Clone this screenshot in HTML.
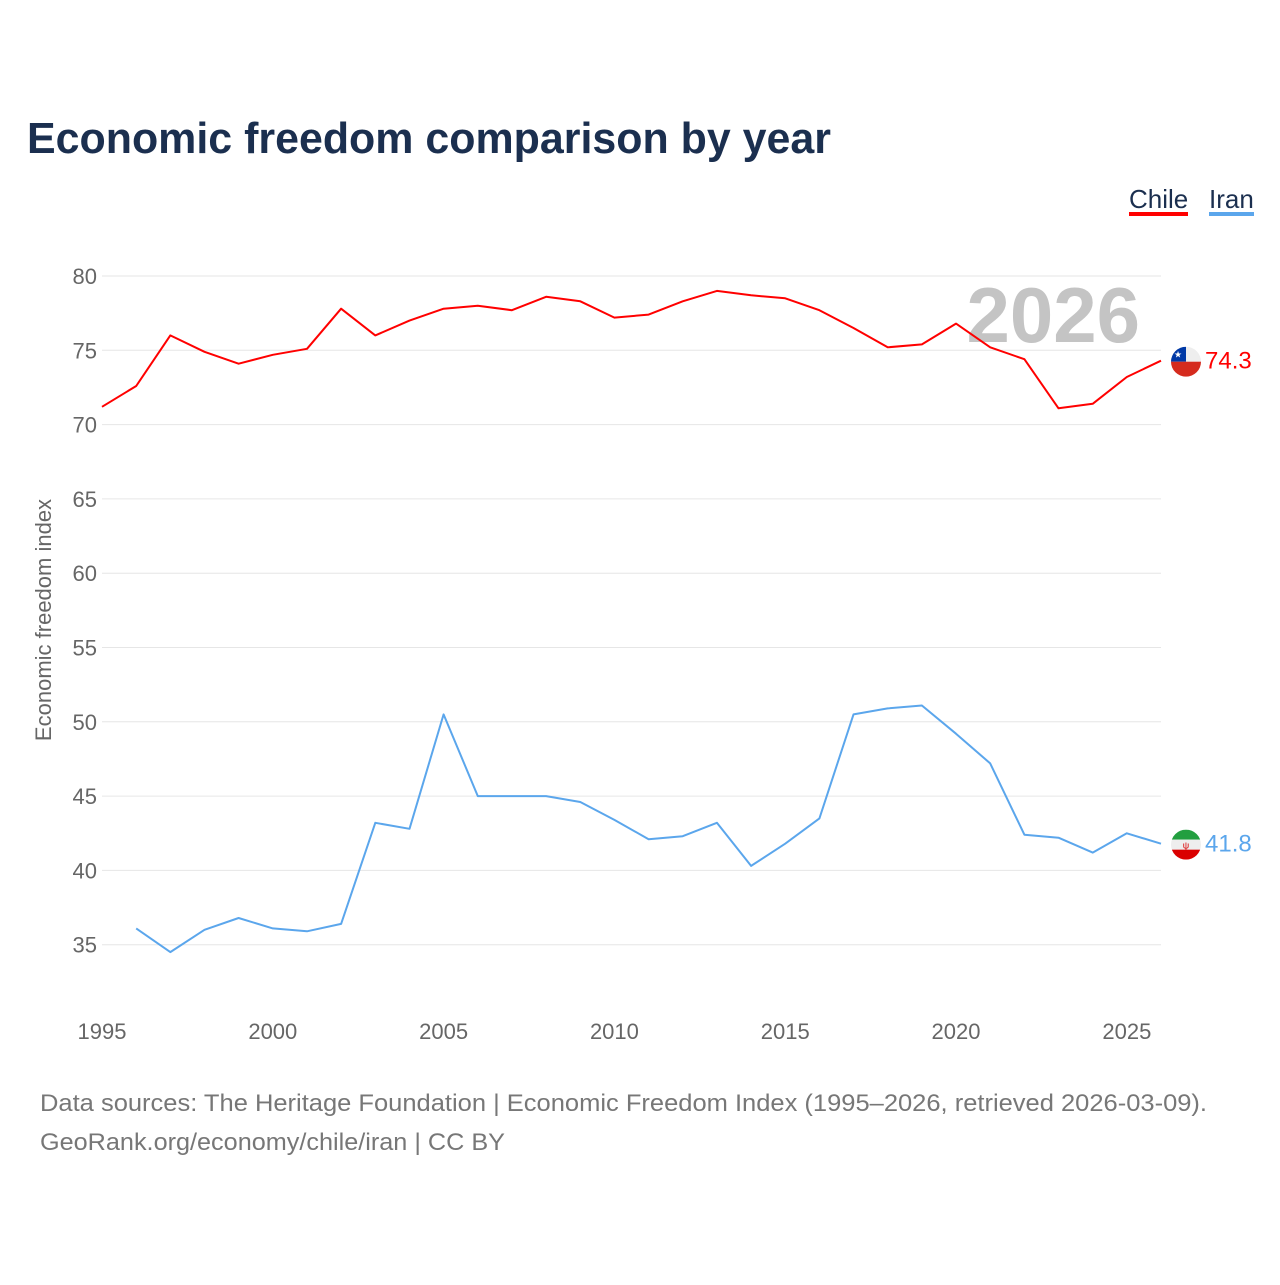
<!DOCTYPE html>
<html><head><meta charset="utf-8"><style>
body{margin:0;background:#fff;width:1280px;height:1280px;overflow:hidden;font-family:"Liberation Sans",sans-serif}
</style></head><body>
<svg id="chart" width="1280" height="1280" xmlns="http://www.w3.org/2000/svg">
<text x="27" y="153" font-size="44" font-weight="bold" fill="#1b2f4f" textLength="804" lengthAdjust="spacingAndGlyphs">Economic freedom comparison by year</text>
<g>
<text x="1129" y="208" font-size="26" fill="#1b2f4f">Chile</text>
<rect x="1129" y="212" width="59" height="4" fill="#ff0000"/>
<text x="1209" y="208" font-size="26" fill="#1b2f4f">Iran</text>
<rect x="1209" y="212" width="45" height="4" fill="#5ba6ec"/>
</g>
<text x="1140" y="342" text-anchor="end" font-size="78" font-weight="bold" fill="#c4c4c4">2026</text>
<g id="grid"></g><g id="yticks"></g><g id="xticks"></g><g id="lines"></g><g id="ends"></g>
<text transform="translate(51,620) rotate(-90)" text-anchor="middle" font-size="22" fill="#666">Economic freedom index</text>
<text x="40" y="1111" font-size="24" fill="#777" textLength="1167" lengthAdjust="spacingAndGlyphs">Data sources: The Heritage Foundation | Economic Freedom Index (1995–2026, retrieved 2026-03-09).</text>
<text x="40" y="1150" font-size="24" fill="#777" textLength="465" lengthAdjust="spacingAndGlyphs">GeoRank.org/economy/chile/iran | CC BY</text>
</svg>
<script>
const years=[1995,1996,1997,1998,1999,2000,2001,2002,2003,2004,2005,2006,2007,2008,2009,2010,2011,2012,2013,2014,2015,2016,2017,2018,2019,2020,2021,2022,2023,2024,2025,2026];
const chile=[71.2,72.6,76.0,74.9,74.1,74.7,75.1,77.8,76.0,77.0,77.8,78.0,77.7,78.6,78.3,77.2,77.4,78.3,79.0,78.7,78.5,77.7,76.5,75.2,75.4,76.8,75.2,74.4,71.1,71.4,73.2,74.3];
const iran=[null,36.1,34.5,36.0,36.8,36.1,35.9,36.4,43.2,42.8,50.5,45.0,45.0,45.0,44.6,43.4,42.1,42.3,43.2,40.3,41.8,43.5,50.5,50.9,51.1,49.2,47.2,42.4,42.2,41.2,42.5,41.8];
const yTicks=[35,40,45,50,55,60,65,70,75,80];
const xTicks=[1995,2000,2005,2010,2015,2020,2025];
const NS="http://www.w3.org/2000/svg";
const X=v=>102+(v-1995)*(1161-102)/31;
const Y=v=>276+(80-v)*14.86;
function mk(t,a,p){const e=document.createElementNS(NS,t);for(const k in a)e.setAttribute(k,a[k]);document.getElementById(p).appendChild(e);return e;}
yTicks.forEach(v=>{
 const l=mk('line',{x1:102,x2:1161,y1:Y(v),y2:Y(v),stroke:'#e6e6e6','stroke-width':1},'grid');
 
 
 const t=mk('text',{x:97,y:Y(v)+8,'text-anchor':'end','font-size':22,fill:'#666'},'yticks');
 t.textContent=v;
 
 
});
xTicks.forEach(v=>{
 const t=mk('text',{x:X(v),y:1039,'text-anchor':'middle','font-size':22,fill:'#666'},'xticks');
 t.textContent=v;
 
 
});
function line(vals,col,name){
 let d='';vals.forEach((v,i)=>{if(v==null)return;d+=(d?'L':'M')+X(years[i]).toFixed(1)+','+Y(v).toFixed(1);});
 const p=mk('path',{d:d,fill:'none',stroke:col,'stroke-width':2,'stroke-linejoin':'round'},'lines');
 
 
}
line(chile,'#ff0000','chile-line');
line(iran,'#5ba6ec','iran-line');
const cy=Y(chile[chile.length-1]), iy=Y(iran[iran.length-1]);
const ends=document.getElementById('ends');
ends.innerHTML=`
<g><clipPath id="c1"><circle cx="1186" cy="${cy+1}" r="15"/></clipPath>
<g clip-path="url(#c1)"><rect x="1171" y="${cy-14}" width="30" height="15" fill="#eee"/><rect x="1171" y="${cy-14}" width="15" height="15" fill="#0039a6"/><rect x="1171" y="${cy+1}" width="30" height="15" fill="#d52b1e"/></g>
<text x="1178" y="${cy-3}" text-anchor="middle" font-size="9" fill="#fff">★</text></g>
<text x="1205" y="${cy+8}" font-size="24" fill="#ff0000">${chile[chile.length-1].toFixed(1)}</text>
<g><clipPath id="c2"><circle cx="1186" cy="${iy+1}" r="15"/></clipPath>
<g clip-path="url(#c2)"><rect x="1171" y="${iy-14}" width="30" height="10" fill="#239f40"/><rect x="1171" y="${iy-4}" width="30" height="10" fill="#eee"/><rect x="1171" y="${iy+6}" width="30" height="10" fill="#da0000"/></g>
<text x="1186" y="${iy+5}" text-anchor="middle" font-size="9" fill="#da0000">ψ</text></g>
<text x="1205" y="${iy+8}" font-size="24" fill="#5ba6ec">${iran[iran.length-1].toFixed(1)}</text>`;
</script>
</body></html>
